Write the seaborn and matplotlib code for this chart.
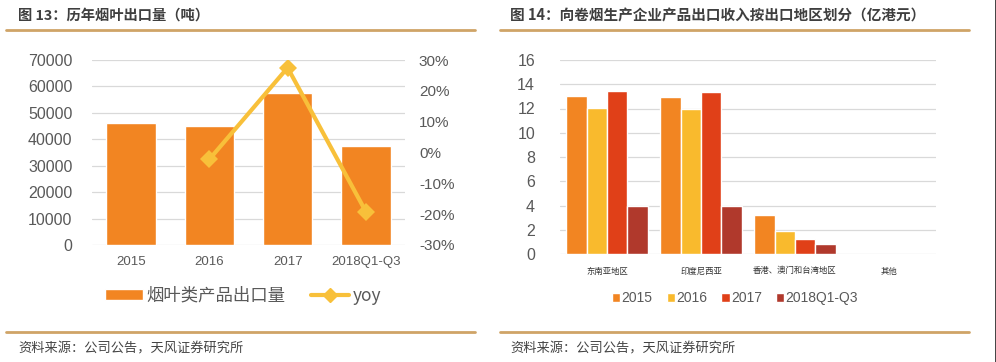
import seaborn as sns
import matplotlib.pyplot as plt
import pandas as pd
import numpy as np
from matplotlib.lines import Line2D
from matplotlib.patches import Patch

# data: left chart
years = ["2015", "2016", "2017", "2018Q1-Q3"]
volume = [46000, 45000, 57400, 37500]
yoy = [np.nan, -2.2, 27.5, -19.2]

# data: right chart
regions = ["东南亚地区", "印度尼西亚", "香港、澳门和台湾地区", "其他"]
series = ["2015", "2016", "2017", "2018Q1-Q3"]
rev_2015 = [13.0, 12.95, 3.25, 0.02]
rev_2016 = [12.05, 12.0, 1.9, 0.02]
rev_2017 = [13.45, 13.35, 1.2, 0.03]
rev_2018 = [3.95, 3.95, 0.8, 0.02]

sns.set_theme(style="white")
plt.rcParams['font.family'] = ['Liberation Sans', 'Noto Sans CJK SC', 'DejaVu Sans']

W, H = 996, 362
fig = plt.figure(figsize=(W / 100, H / 100), dpi=100)

txt = "#595959"
grid = "#D9D9D9"
tan = "#CFA467"
bar_cols = ["#F28522", "#F9BA2D", "#E04018", "#B0392C"]
cjk = ['Noto Sans CJK SC', 'DejaVu Sans']


def px(x, y):
    return x / W, 1 - y / H


# header / footer decorations
for x0, x1 in [(6, 475), (500, 969)]:
    for yy in [30, 332]:
        fig.add_artist(Line2D([x0 / W, x1 / W], [1 - yy / H] * 2, color=tan, lw=2))
fig.add_artist(Line2D([995.5 / W] * 2, [0, 1], color="#222222", lw=1.2))

fig.text(*px(18, 16), "图 13：历年烟叶出口量（吨）", fontsize=10.3, fontweight="bold",
         color="#3F3F3F", va="center", family=cjk)
fig.text(*px(510, 16), "图 14：向卷烟生产企业产品出口收入按出口地区划分（亿港元）", fontsize=10.5,
         fontweight="bold", color="#3F3F3F", va="center", family=cjk)
fig.text(*px(18, 349), "资料来源：公司公告，天风证券研究所", fontsize=9.5, color="#444444",
         va="center", family=cjk)
fig.text(*px(510, 349), "资料来源：公司公告，天风证券研究所", fontsize=9.5, color="#444444",
         va="center", family=cjk)

# ---- left chart
ax = fig.add_axes([92 / W, 1 - 245 / H, 313 / W, 185 / H])
df1 = pd.DataFrame({"year": years, "volume": volume})
sns.barplot(data=df1, x="year", y="volume", color=bar_cols[0], saturation=1,
            width=0.63, ax=ax, zorder=2)
ax.set_xlim(-0.5, 3.5)
ax.set_ylim(0, 70000)
ax.set_yticks(np.arange(0, 70001, 10000))
ax.yaxis.grid(True, color=grid, lw=0.9, zorder=0)
ax.set_axisbelow(True)
ax.set_xlabel("")
ax.set_ylabel("")
for s in ax.spines.values():
    s.set_visible(False)
ax.tick_params(axis="y", labelsize=11.5, colors=txt, length=0, pad=14)
ax.tick_params(axis="x", labelsize=9.5, colors=txt, length=0, pad=8)

ax2 = ax.twinx()
pos = np.arange(len(years))
sns.lineplot(x=pos, y=yoy, ax=ax2, color="#F8C03A", lw=3, marker="D",
             markersize=9, markeredgewidth=0, zorder=3)
ax2.set_ylim(-30, 30)
ax2.set_yticks(np.arange(-30, 31, 10))
ax2.set_yticklabels([f"{v}%" for v in range(-30, 31, 10)])
for s in ax2.spines.values():
    s.set_visible(False)
ax2.tick_params(axis="y", labelsize=11, colors=txt, length=0, pad=10)

h1 = Patch(facecolor=bar_cols[0], label="烟叶类产品出口量")
h2 = Line2D([], [], color="#F8C03A", lw=3, marker="D", markersize=7, label="yoy")
fig.legend(handles=[h1, h2], loc="center", bbox_to_anchor=px(243, 296), ncol=2,
           frameon=False, handlelength=2.2, handleheight=0.6,
           columnspacing=1.5, handletextpad=0.2, labelcolor=txt,
           prop={"family": cjk, "size": 12.5})

# ---- right chart
axr = fig.add_axes([560 / W, 1 - 254 / H, 376 / W, 194 / H])
df2 = pd.DataFrame({
    "region": regions * 4,
    "year": np.repeat(series, len(regions)),
    "value": rev_2015 + rev_2016 + rev_2017 + rev_2018,
})
sns.barplot(data=df2, x="region", y="value", hue="year", palette=bar_cols, saturation=1,
            width=0.865, gap=0, ax=axr, zorder=2, legend=False)
axr.set_xlim(-0.5, 3.5)
axr.set_ylim(0, 16)
axr.set_yticks(np.arange(0, 17, 2))
axr.yaxis.grid(True, color=grid, lw=0.9, zorder=0)
axr.set_axisbelow(True)
axr.set_xlabel("")
axr.set_ylabel("")
for s in axr.spines.values():
    s.set_visible(False)
axr.tick_params(axis="y", labelsize=11.5, colors=txt, length=0, pad=18)
axr.tick_params(axis="x", labelsize=6, colors="#333333", length=0, pad=9)
for lab in axr.get_xticklabels():
    lab.set_family(cjk)

hs = [Patch(facecolor=c, label=s) for c, s in zip(bar_cols, series)]
fig.legend(handles=hs, loc="center", bbox_to_anchor=px(735, 298), ncol=4, frameon=False,
           fontsize=10, handlelength=0.6, handleheight=0.6, handletextpad=0.1,
           columnspacing=1.0, labelcolor=txt)

fig.savefig("out.png", dpi=100)
